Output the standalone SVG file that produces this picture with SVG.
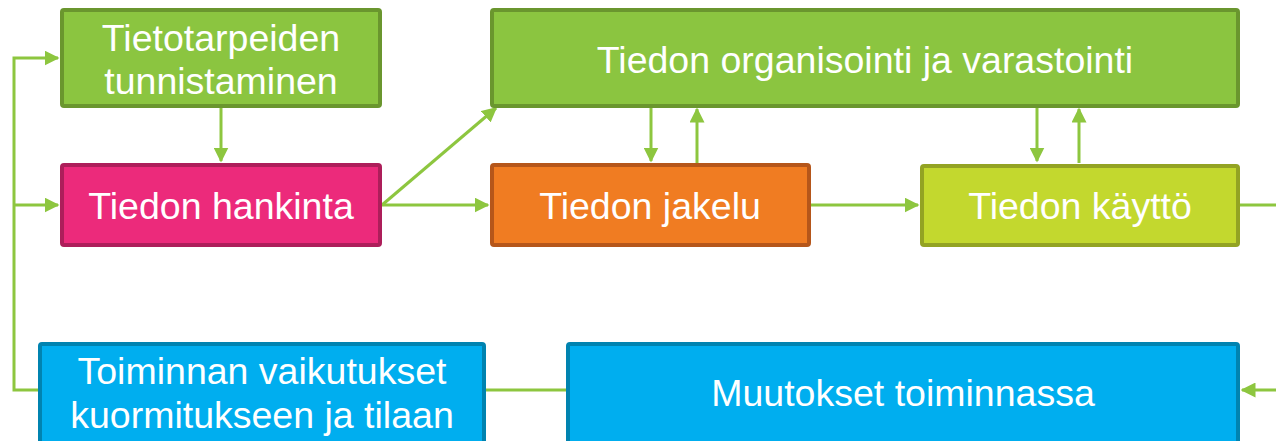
<svg xmlns="http://www.w3.org/2000/svg" width="1276" height="441" viewBox="0 0 1276 441">
<style>
.box{stroke-width:4}
.t{font-family:"Liberation Sans",Arial,sans-serif;font-size:37.5px;fill:#ffffff;text-anchor:middle}
.c{stroke:#8dc63f;stroke-width:3;fill:none}
</style>
<defs>
<marker id="ah" markerWidth="5" markerHeight="5" refX="4.5" refY="2.5" orient="auto" markerUnits="strokeWidth">
<path d="M0,0 L5,2.5 L0,5 Z" fill="#8dc63f"/>
</marker>
</defs>
<rect width="1276" height="441" fill="#ffffff"/>
<g id="connectors">
<polyline class="c" points="38,390 14,390 14,58 58,58" marker-end="url(#ah)"/>
<polyline class="c" points="14,205 58,205" marker-end="url(#ah)"/>
<line class="c" x1="221" y1="108" x2="221" y2="161" marker-end="url(#ah)"/>
<line class="c" x1="382" y1="205" x2="488" y2="205" marker-end="url(#ah)"/>
<line class="c" x1="382" y1="205" x2="496" y2="108" marker-end="url(#ah)"/>
<line class="c" x1="651" y1="108" x2="651" y2="161" marker-end="url(#ah)"/>
<line class="c" x1="697" y1="163" x2="697" y2="109" marker-end="url(#ah)"/>
<line class="c" x1="1037" y1="108" x2="1037" y2="161" marker-end="url(#ah)"/>
<line class="c" x1="1079" y1="163" x2="1079" y2="109" marker-end="url(#ah)"/>
<line class="c" x1="811" y1="205" x2="918" y2="205" marker-end="url(#ah)"/>
<line class="c" x1="1240" y1="205" x2="1276" y2="205"/>
<line class="c" x1="1276" y1="390" x2="1242" y2="390" marker-end="url(#ah)"/>
<line class="c" x1="566" y1="390" x2="486" y2="390"/>
</g>
<g id="n1">
<rect class="box" x="62" y="10" width="318" height="96" rx="2" fill="#8bc540" stroke="#6a962e"/>
<text class="t" x="221" y="51">Tietotarpeiden</text>
<text class="t" x="221" y="94">tunnistaminen</text>
</g>
<g id="n2">
<rect class="box" x="62" y="165" width="318" height="80" rx="2" fill="#ec2a7b" stroke="#ad1e5a"/>
<text class="t" x="221" y="219">Tiedon hankinta</text>
</g>
<g id="n3">
<rect class="box" x="492" y="10" width="746" height="96" rx="2" fill="#8bc540" stroke="#6a962e"/>
<text class="t" x="865" y="73">Tiedon organisointi ja varastointi</text>
</g>
<g id="n4">
<rect class="box" x="492" y="165" width="317" height="80" rx="2" fill="#f07c22" stroke="#b5561a"/>
<text class="t" x="650" y="219">Tiedon jakelu</text>
</g>
<g id="n5">
<rect class="box" x="922" y="166" width="316" height="79" rx="2" fill="#c3d82e" stroke="#93a323"/>
<text class="t" x="1080" y="219">Tiedon käyttö</text>
</g>
<g id="n6">
<rect class="box" x="40" y="344" width="444" height="100" rx="2" fill="#00aeef" stroke="#0083b0"/>
<text class="t" x="262" y="384">Toiminnan vaikutukset</text>
<text class="t" x="262" y="428">kuormitukseen ja tilaan</text>
</g>
<g id="n7">
<rect class="box" x="568" y="344" width="670" height="100" rx="2" fill="#00aeef" stroke="#0083b0"/>
<text class="t" x="903" y="406">Muutokset toiminnassa</text>
</g>
</svg>
